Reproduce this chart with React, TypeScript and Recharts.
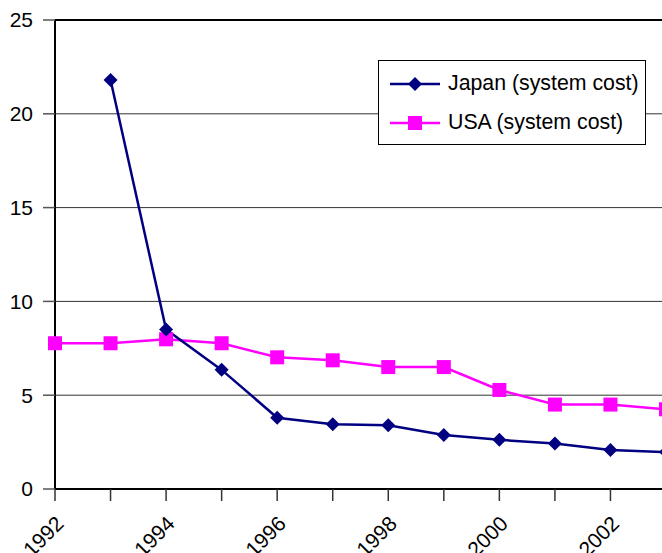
import React from "react";
import { CartesianGrid, Line, LineChart, ReferenceLine, XAxis, YAxis } from "recharts";

const years = [1992, 1993, 1994, 1995, 1996, 1997, 1998, 1999, 2000, 2001, 2002, 2003];
const japanCost = [null, 21.8, 8.5, 6.35, 3.8, 3.45, 3.4, 2.88, 2.62, 2.42, 2.08, 1.97];
const usaCost = [7.77, 7.77, 7.98, 7.77, 7.02, 6.86, 6.5, 6.5, 5.28, 4.5, 4.5, 4.25];
const yTicks = [0, 5, 10, 15, 20, 25];
const labelYears = [1992, 1994, 1996, 1998, 2000, 2002];

const NAVY = "#000080";
const MAGENTA = "#ff00ff";
const FONT = "'Liberation Sans', Arial, sans-serif";

const data = years.map((year, i) => ({
  year,
  japan: japanCost[i],
  usa: usaCost[i],
}));

const Diamond = (props: any) => {
  const { cx, cy, key } = props;
  if (cx == null || cy == null || props.value == null) return <g key={key} />;
  const r = 7;
  return (
    <polygon
      key={key}
      points={`${cx},${cy - r} ${cx + r},${cy} ${cx},${cy + r} ${cx - r},${cy}`}
      fill={NAVY}
    />
  );
};

const Square = (props: any) => {
  const { cx, cy, key } = props;
  if (cx == null || cy == null) return <g key={key} />;
  const s = 7;
  return <rect key={key} x={cx - s} y={cy - s} width={s * 2} height={s * 2} fill={MAGENTA} />;
};

const XTick = (props: any) => {
  const { x, y, payload } = props;
  if (!labelYears.includes(payload.value)) return <g />;
  return (
    <text
      x={x + 10}
      y={y + 22}
      transform={`rotate(-45, ${x + 10}, ${y + 22})`}
      textAnchor="end"
      fontSize={21}
      fontFamily={FONT}
      fill="#000"
    >
      {payload.value}
    </text>
  );
};

const LegendBox = () => {
  const items = [
    { name: "Japan (system cost)", color: NAVY, shape: "diamond" },
    { name: "USA (system cost)", color: MAGENTA, shape: "square" },
  ];
  return (
    <div
      style={{
        position: "absolute",
        left: 378,
        top: 60,
        width: 268,
        height: 85,
        border: "1px solid #000",
        background: "#fff",
        boxSizing: "border-box",
        paddingTop: 3,
        fontFamily: FONT,
        fontSize: 21.3,
        color: "#000",
      }}
    >
      {items.map((it) => (
        <div key={it.name} style={{ display: "flex", alignItems: "center", height: 39 }}>
          <svg width={52} height={20} style={{ marginLeft: 11, flexShrink: 0 }}>
            <line x1={0} y1={10} x2={50} y2={10} stroke={it.color} strokeWidth={2.5} />
            {it.shape === "diamond" ? (
              <polygon points="25,3 32,10 25,17 18,10" fill={it.color} />
            ) : (
              <rect x={18} y={3} width={14} height={14} fill={it.color} />
            )}
          </svg>
          <span style={{ marginLeft: 6, whiteSpace: "nowrap" }}>{it.name}</span>
        </div>
      ))}
    </div>
  );
};

export default function App() {
  return (
    <div
      style={{
        position: "absolute",
        left: 0,
        top: 0,
        width: 662,
        height: 553,
        overflow: "hidden",
        background: "#fff",
      }}
    >
      <LineChart
        width={666}
        height={553}
        data={data}
        margin={{ top: 20, right: 0, left: 0, bottom: 0 }}
      >
        <CartesianGrid vertical={false} stroke="#333" strokeWidth={1} />
        <ReferenceLine y={25} stroke="#000" strokeWidth={2} />
        <XAxis
          dataKey="year"
          type="number"
          domain={[1992, 2003]}
          ticks={years}
          interval={0}
          height={64}
          tickSize={12}
          tickLine={{ stroke: "#333", strokeWidth: 1.5 }}
          axisLine={{ stroke: "#000", strokeWidth: 2 }}
          tick={<XTick />}
        />
        <YAxis
          width={55}
          domain={[0, 25]}
          ticks={yTicks}
          interval={0}
          tickSize={12}
          tickMargin={10}
          tickLine={{ stroke: "#555", strokeWidth: 1.5 }}
          axisLine={{ stroke: "#000", strokeWidth: 2 }}
          tick={{ fill: "#000", fontSize: 21, fontFamily: FONT }}
        />
        <Line
          dataKey="usa"
          stroke={MAGENTA}
          strokeWidth={2.5}
          dot={<Square />}
          activeDot={false}
          isAnimationActive={false}
        />
        <Line
          dataKey="japan"
          stroke={NAVY}
          strokeWidth={2.5}
          dot={<Diamond />}
          activeDot={false}
          connectNulls={false}
          isAnimationActive={false}
        />
      </LineChart>
      <LegendBox />
    </div>
  );
}
